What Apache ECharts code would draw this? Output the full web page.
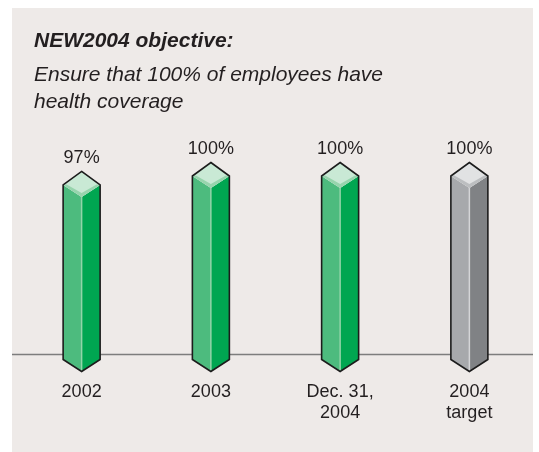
<!DOCTYPE html>
<html>
<head>
<meta charset="utf-8">
<script src="https://cdn.jsdelivr.net/npm/echarts@6/dist/echarts.min.js"></script>
<style>
  html, body { margin: 0; padding: 0; background: #ffffff; }
  #chart { width: 539px; height: 452px; }
</style>
</head>
<body>
<div id="chart"></div>
<script>
// Health coverage share per period
const categories = ['2002', '2003', 'Dec. 31,\n2004', '2004\ntarget'];
const coverage = [97, 100, 100, 100];
const valueLabels = ['97%', '100%', '100%', '100%'];
const targetIndex = 3;

const FONT = '"Liberation Sans", Arial, Helvetica, sans-serif';
const AXIS_MIN = 40;

const greenFaces = { left: '#4dbb7e', right: '#00a651', top: '#c9e9d5', bevel: '#97d4ad', ridge: '#92d4a9' };
const grayFaces  = { left: '#a7a9ac', right: '#808285', top: '#e1e2e3', bevel: '#bcbec0', ridge: '#d4d5d7' };

const chart = echarts.init(document.getElementById('chart'), null, { renderer: 'canvas' });

function renderPrism(params, api) {
  const idx = api.value(0);
  const val = api.value(1);
  const top = api.coord([idx, val]);
  const base = api.coord([idx, AXIS_MIN]);
  const cx = top[0];
  const yv = top[1];
  const yb = base[1] + 5;
  const w = 18.5, dy = 12, da = 13.5;
  const c = idx === targetIndex ? grayFaces : greenFaces;

  const silhouette = [[cx, yv - da], [cx + w, yv], [cx + w, yb], [cx, yb + dy], [cx - w, yb], [cx - w, yv]];
  return {
    type: 'group',
    children: [
      { type: 'polygon', shape: { points: [[cx - w, yv], [cx, yv + dy], [cx, yb + dy], [cx - w, yb]] },
        style: { fill: c.left } },
      { type: 'polygon', shape: { points: [[cx, yv + dy], [cx + w, yv], [cx + w, yb], [cx, yb + dy]] },
        style: { fill: c.right } },
      { type: 'polygon', shape: { points: [[cx, yv - da], [cx + w, yv], [cx, yv + dy], [cx - w, yv]] },
        style: { fill: c.top } },
      { type: 'polygon', shape: { points: [[cx - w, yv], [cx, yv + dy], [cx + w, yv], [cx + w - 3.5, yv - 0.5], [cx, yv + dy - 4], [cx - w + 3.5, yv - 0.5]] },
        style: { fill: c.bevel } },
      { type: 'line', shape: { x1: cx, y1: yv + dy, x2: cx, y2: yb + dy },
        style: { stroke: c.ridge, lineWidth: 1.5 } },
      { type: 'polygon', shape: { points: silhouette },
        style: { fill: null, stroke: '#1c1c1c', lineWidth: 1.6, lineJoin: 'miter' } },
      { type: 'text', x: cx, y: yv - da - 13.3,
        style: { text: valueLabels[idx], fontSize: 18, fontFamily: FONT, fill: '#231f20',
                 align: 'center', verticalAlign: 'middle' } }
    ]
  };
}

const option = {
  backgroundColor: '#ffffff',
  animation: false,
  title: {
    text: 'NEW2004 objective:',
    subtext: 'Ensure that 100% of employees have\nhealth coverage',
    left: 34,
    top: 29,
    padding: 0,
    itemGap: 9,
    textStyle: { fontFamily: FONT, fontSize: 21, fontWeight: 'bold', fontStyle: 'italic',
                 color: '#231f20', lineHeight: 24 },
    subtextStyle: { fontFamily: FONT, fontSize: 21, fontStyle: 'italic',
                    color: '#231f20', lineHeight: 27 }
  },
  graphic: [
    { type: 'rect', z: -10, silent: true,
      shape: { x: 12, y: 8, width: 521, height: 444 },
      style: { fill: '#eeeae8' } },
    { type: 'line', z: -5, silent: true,
      shape: { x1: 12, y1: 354.5, x2: 533, y2: 354.5 },
      style: { stroke: '#7d7d7d', lineWidth: 1.5 } }
  ],
  grid: { left: 17, right: 5, top: 176, bottom: 97.5 },
  xAxis: {
    type: 'category',
    data: categories,
    axisLine: { show: false },
    axisTick: { show: false },
    axisLabel: { margin: 27, fontFamily: FONT, fontSize: 18, lineHeight: 21,
                 color: '#231f20', interval: 0 }
  },
  yAxis: {
    type: 'value',
    min: AXIS_MIN,
    max: 100,
    show: false,
    splitLine: { show: false }
  },
  series: [{
    type: 'custom',
    clip: false,
    renderItem: renderPrism,
    encode: { x: 0, y: 1 },
    data: coverage.map((v, i) => [i, v])
  }]
};

chart.setOption(option);
</script>
</body>
</html>
